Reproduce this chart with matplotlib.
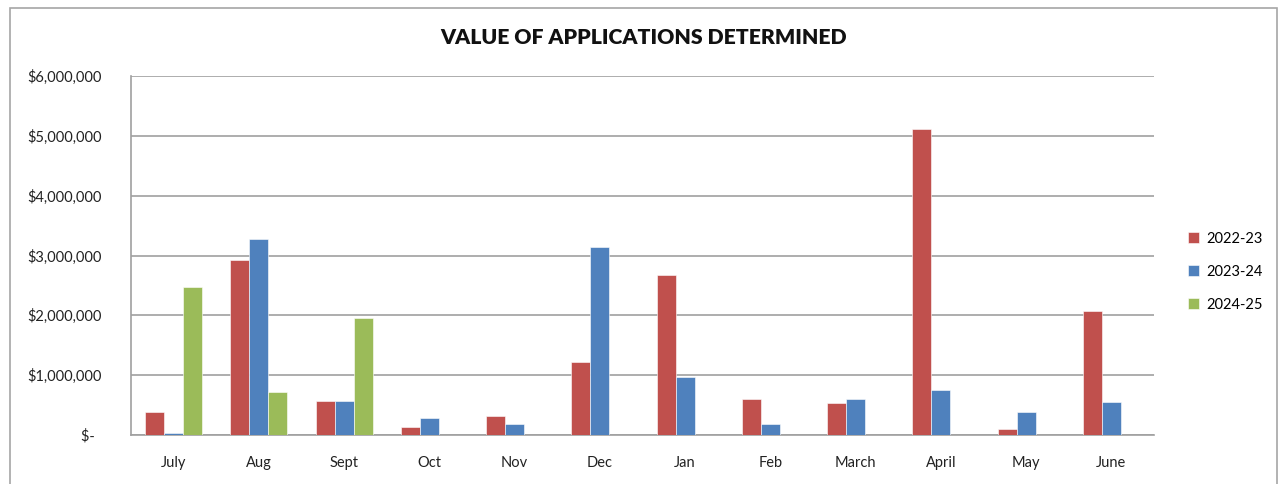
import matplotlib.pyplot as plt
import numpy as np
from matplotlib.ticker import FuncFormatter
from matplotlib.patches import Rectangle

months = ["July", "Aug", "Sept", "Oct", "Nov", "Dec", "Jan", "Feb",
          "March", "April", "May", "June"]
series_names = ["2022-23", "2023-24", "2024-25"]
v2022 = [390000, 2920000, 570000, 140000, 320000, 1220000, 2670000, 610000,
         530000, 5120000, 95000, 2080000]
v2023 = [30000, 3270000, 570000, 280000, 180000, 3140000, 970000, 180000,
         610000, 750000, 390000, 550000]
v2024 = [2480000, 720000, 1950000, 0, 0, 0, 0, 0, 0, 0, 0, 0]
colors = ["#C0504D", "#4F81BD", "#9BBB59"]

plt.rcParams['font.family'] = ['Lato', 'DejaVu Sans']

fig = plt.figure(figsize=(12.79, 4.84), dpi=100)
ax = fig.add_axes([131 / 1279, 1 - 435 / 484, (1154 - 131) / 1279, (435 - 76) / 484])

# chart border like the Excel chart area
fig.patches.append(Rectangle((10 / 1279, -0.05), (1277 - 10) / 1279, 1.05 - 8 / 484,
                             transform=fig.transFigure, fill=False,
                             edgecolor="#a6a6a6", linewidth=1.2))

x = np.arange(len(months))
w = 0.223
for i, (vals, name) in enumerate(zip([v2022, v2023, v2024], series_names)):
    ax.bar(x + (i - 1) * w, vals, width=w, color=colors[i], label=name,
           edgecolor="white", linewidth=0.4, zorder=3)

ax.set_xlim(-0.5, len(months) - 0.5)
ax.set_ylim(0, 6000000)
ax.set_yticks(np.arange(0, 6000001, 1000000))
ax.yaxis.set_major_formatter(FuncFormatter(
    lambda v, p: "$-  " if v == 0 else "${:,.0f}".format(v)))
ax.set_xticks(x)
ax.set_xticklabels(months)
ax.tick_params(axis='both', length=0, labelsize=10.5, colors="#222222")
ax.tick_params(axis='x', pad=15)
ax.tick_params(axis='y', pad=21)
ax.grid(axis='y', color="#a0a0a0", linewidth=1.2, zorder=0)
for s in ["top", "right"]:
    ax.spines[s].set_visible(False)
ax.spines["left"].set_color("#a0a0a0")
ax.spines["bottom"].set_color("#a0a0a0")
ax.spines["left"].set_linewidth(1.2)
ax.spines["bottom"].set_linewidth(1.2)

fig.text(644 / 1279, 1 - 38 / 484, "VALUE OF APPLICATIONS DETERMINED",
         ha="center", va="center", fontsize=15.3, fontweight="heavy",
         color="#111111")

ax.legend(loc="center left", bbox_to_anchor=(1.02, 0.455), frameon=False,
          fontsize=10.5, handlelength=0.8, handleheight=0.8, labelspacing=1.3,
          handletextpad=0.5)

fig.savefig("out.png", dpi=100)
